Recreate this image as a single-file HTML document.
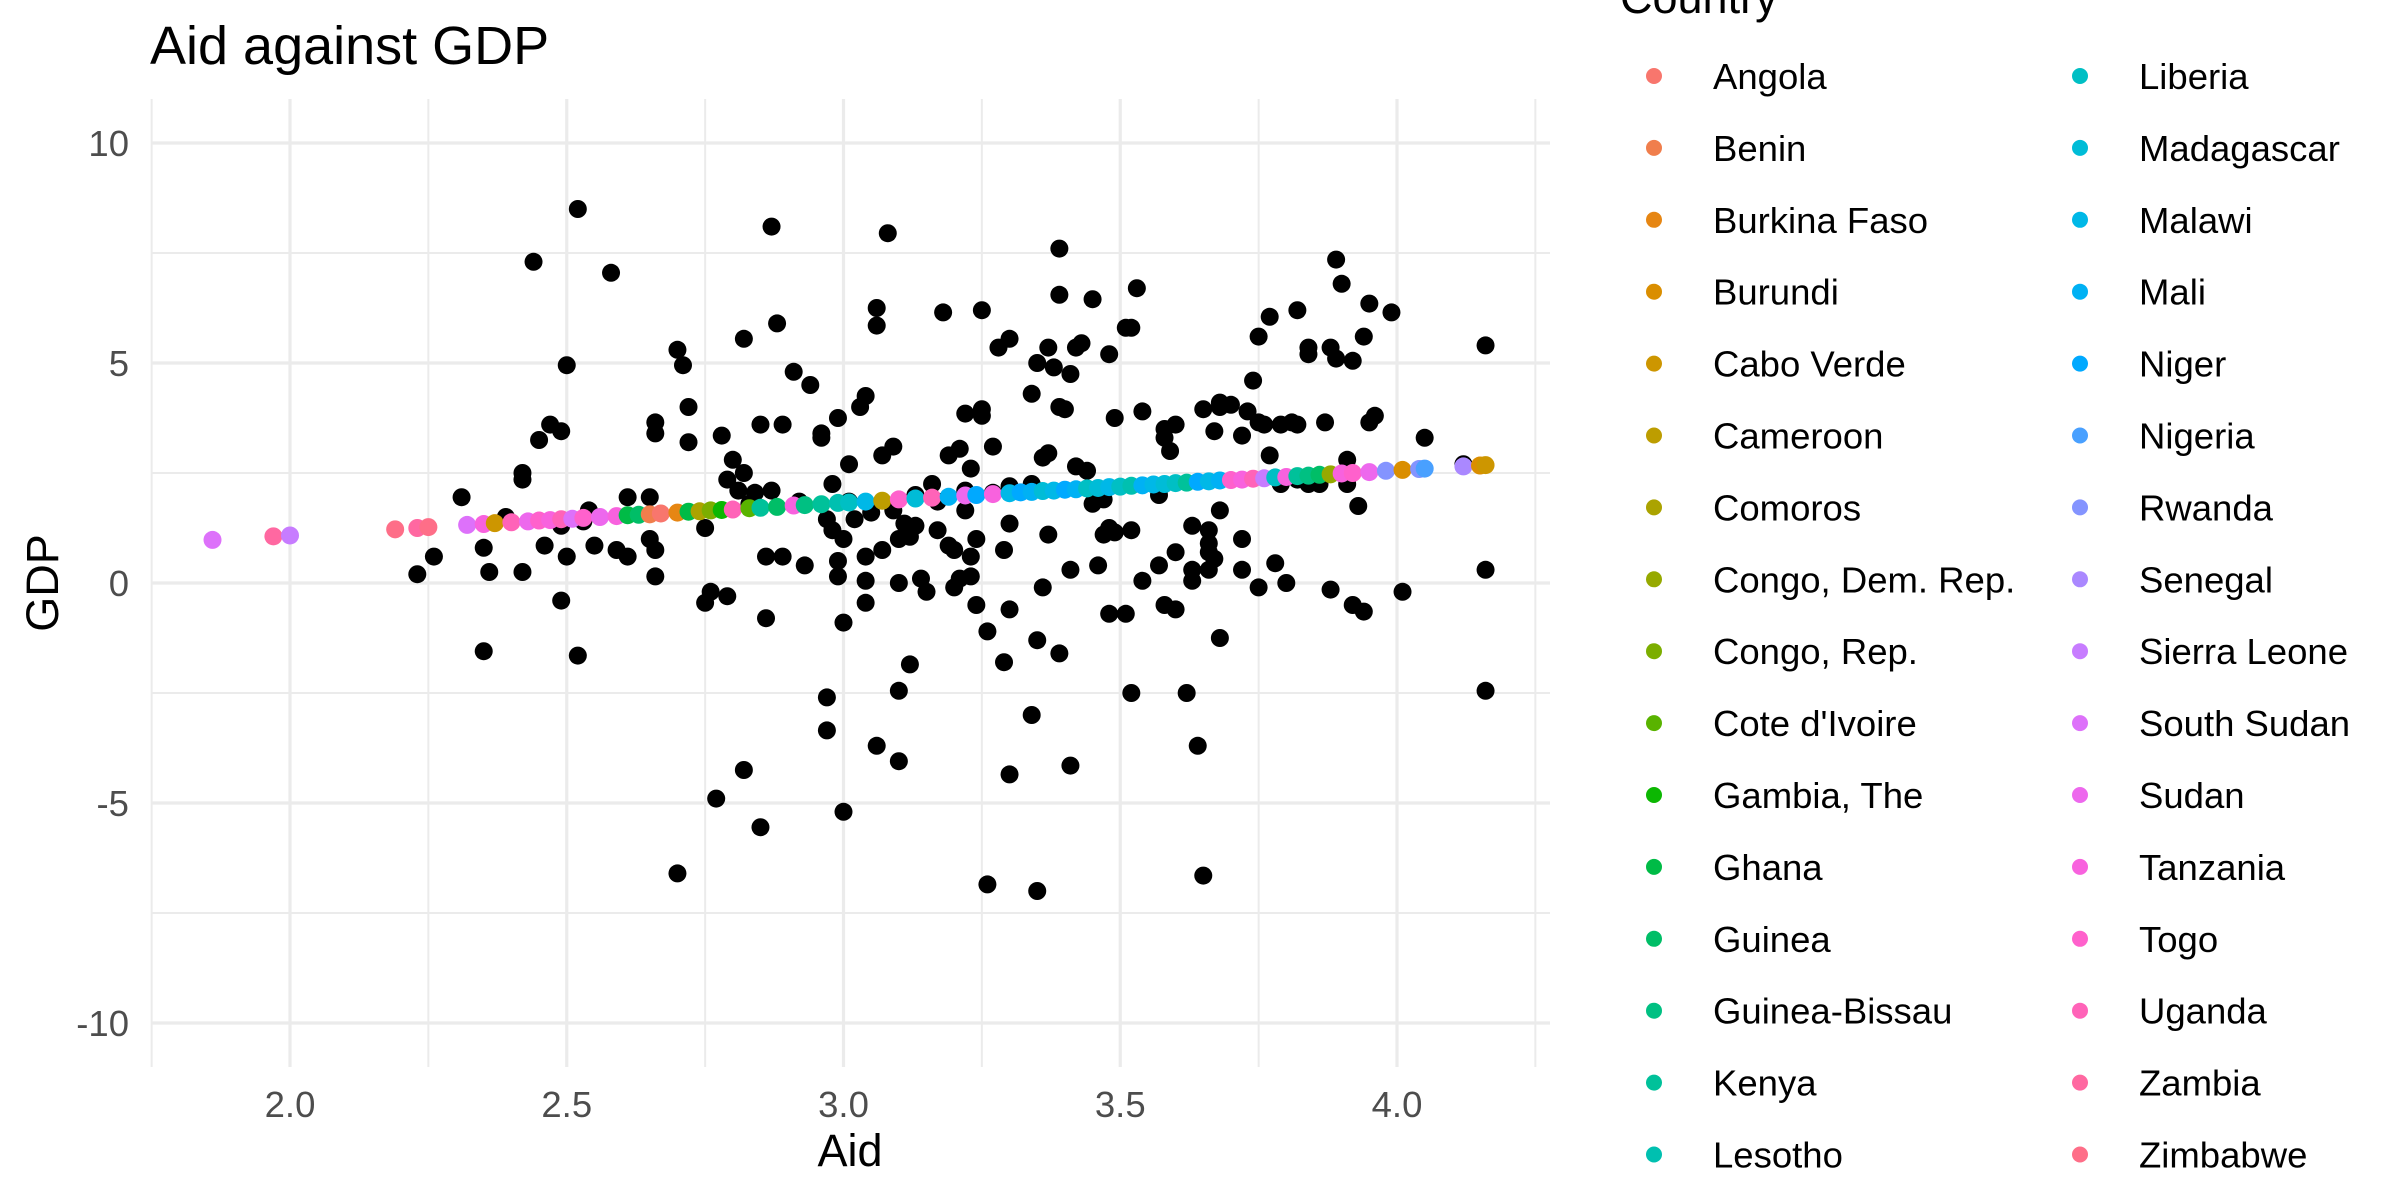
<!DOCTYPE html>
<html>
<head>
<meta charset="utf-8">
<style>
  html, body { margin:0; padding:0; background:#fff; }
  svg { display:block; font-family:"Liberation Sans", Arial, sans-serif; }
</style>
</head>
<body>
<svg id="chart" width="2400" height="1200" viewBox="0 0 2400 1200" xmlns="http://www.w3.org/2000/svg">
  <rect x="0" y="0" width="2400" height="1200" fill="#ffffff"/>
  <g id="grid"></g>
  <g id="yticks"></g>
  <g id="xticks"></g>
  <g id="blackpts"></g>
  <g id="colorpts"></g>
  <text x="150" y="64" font-size="54" fill="#000">Aid against GDP</text>
  <text x="850" y="1166" font-size="45" text-anchor="middle" fill="#000">Aid</text>
  <text x="0" y="0" font-size="45" text-anchor="middle" fill="#000" transform="translate(58,583) rotate(-90)">GDP</text>
  <text x="1620" y="13" font-size="45" fill="#000">Country</text>
  <g id="legend"></g>
</svg>
<script>
// ---- data ----
const countries = ["Angola","Benin","Burkina Faso","Burundi","Cabo Verde","Cameroon","Comoros","Congo, Dem. Rep.","Congo, Rep.","Cote d'Ivoire","Gambia, The","Ghana","Guinea","Guinea-Bissau","Kenya","Lesotho","Liberia","Madagascar","Malawi","Mali","Niger","Nigeria","Rwanda","Senegal","Sierra Leone","South Sudan","Sudan","Tanzania","Togo","Uganda","Zambia","Zimbabwe"];
const xTicks = [2.0, 2.5, 3.0, 3.5, 4.0];
const xTickLabels = ["2.0","2.5","3.0","3.5","4.0"];
const yTicks = [-10, -5, 0, 5, 10];
const yTickLabels = ["-10","-5","0","5","10"];
const xMinor = [1.75, 2.25, 2.75, 3.25, 3.75, 4.25];
const yMinor = [-7.5, -2.5, 2.5, 7.5];

const aidObs = [2.31,2.23,2.26,2.35,2.35,2.36,2.39,2.42,2.42,2.42,2.44,2.45,2.46,2.47,2.49,2.49,2.49,2.50,2.50,2.52,2.52,2.53,2.54,2.55,2.58,2.59,2.61,2.61,2.65,2.65,2.66,2.66,2.66,2.66,2.70,2.71,2.70,2.72,2.72,2.75,2.75,2.76,2.77,2.78,2.79,2.79,2.80,2.81,2.82,2.82,2.82,2.83,2.84,2.85,2.85,2.86,2.86,2.87,2.87,2.88,2.89,2.89,2.91,2.92,2.93,2.94,2.96,2.96,2.97,2.97,2.97,2.98,2.98,2.99,2.99,2.99,3.00,3.00,3.00,3.01,3.01,3.02,3.03,3.04,3.04,3.04,3.04,3.05,3.06,3.06,3.06,3.07,3.07,3.08,3.09,3.09,3.10,3.10,3.10,3.10,3.11,3.12,3.12,3.13,3.13,3.14,3.15,3.16,3.17,3.17,3.18,3.19,3.19,3.20,3.20,3.21,3.21,3.22,3.22,3.22,3.23,3.22,3.23,3.23,3.24,3.24,3.25,3.25,3.25,3.26,3.26,3.27,3.27,3.28,3.29,3.29,3.30,3.30,3.30,3.30,3.30,3.34,3.34,3.34,3.35,3.35,3.35,3.36,3.36,3.37,3.37,3.37,3.38,3.39,3.39,3.39,3.39,3.40,3.41,3.41,3.41,3.42,3.42,3.43,3.44,3.45,3.45,3.46,3.47,3.47,3.48,3.48,3.48,3.49,3.49,3.51,3.51,3.52,3.52,3.52,3.53,3.54,3.54,3.57,3.57,3.58,3.58,3.58,3.59,3.60,3.60,3.60,3.62,3.63,3.63,3.63,3.64,3.65,3.65,3.66,3.66,3.66,3.66,3.67,3.67,3.68,3.68,3.68,3.68,3.70,3.72,3.72,3.72,3.73,3.74,3.75,3.75,3.75,3.76,3.77,3.77,3.78,3.79,3.79,3.80,3.81,3.82,3.82,3.82,3.84,3.84,3.84,3.86,3.86,3.87,3.88,3.88,3.89,3.89,3.90,3.91,3.91,3.92,3.92,3.93,3.94,3.94,3.95,3.95,3.96,3.99,4.01,4.05,4.12,4.16,4.16,4.16];
const gdpObs = [1.95,0.2,0.6,-1.55,0.8,0.25,1.5,0.25,2.35,2.5,7.3,3.25,0.85,3.6,1.3,-0.4,3.45,4.95,0.6,8.5,-1.65,1.4,1.65,0.85,7.05,0.75,1.95,0.6,1.0,1.95,0.15,0.75,3.65,3.4,5.3,4.95,-6.6,3.2,4.0,1.25,-0.45,-0.2,-4.9,3.35,2.35,-0.3,2.8,2.1,2.5,5.55,-4.25,1.8,2.05,3.6,-5.55,-0.8,0.6,8.1,2.1,5.9,3.6,0.6,4.8,1.85,0.4,4.5,3.3,3.4,1.45,-2.6,-3.35,2.25,1.2,3.75,0.15,0.5,-0.9,-5.2,1.0,2.7,1.85,1.45,4.0,0.6,0.05,-0.45,4.25,1.6,5.85,-3.7,6.25,2.9,0.75,7.95,3.1,1.65,0.0,1.0,-2.45,-4.05,1.35,1.05,-1.85,2.0,1.3,0.1,-0.2,2.25,1.2,1.85,6.15,2.9,0.85,-0.1,0.75,0.1,3.05,2.0,2.1,1.65,2.6,3.85,0.15,0.6,-0.5,1.0,6.2,3.95,3.8,-1.1,-6.85,2.05,3.1,5.35,-1.8,0.75,5.55,-4.35,-0.6,2.2,1.35,2.25,-3.0,4.3,5.0,-7.0,-1.3,-0.1,2.85,1.1,2.95,5.35,4.9,6.55,-1.6,4.0,7.6,3.95,-4.15,0.3,4.75,2.65,5.35,5.45,2.55,6.45,1.8,0.4,1.9,1.1,1.25,5.2,-0.7,3.75,1.15,-0.7,5.8,-2.5,5.8,1.2,6.7,0.05,3.9,2.0,0.4,-0.5,3.3,3.5,3.0,3.6,-0.6,0.7,-2.5,0.05,0.3,1.3,-3.7,3.95,-6.65,0.3,1.2,0.7,0.9,3.45,0.55,4.0,4.1,1.65,-1.25,4.05,3.35,1.0,0.3,3.9,4.6,-0.1,5.6,3.65,3.6,6.05,2.9,0.45,2.25,3.6,0.0,3.65,6.2,2.35,3.6,2.25,5.2,5.35,2.25,2.4,3.65,-0.15,5.35,7.35,5.1,6.8,2.25,2.8,-0.5,5.05,1.75,5.6,-0.65,3.65,6.35,3.8,6.15,-0.2,3.3,2.7,-2.45,5.4,0.3];

const aidFit = [1.86,1.97,2.00,2.19,2.23,2.25,2.32,2.35,2.37,2.40,2.43,2.45,2.47,2.49,2.51,2.53,2.56,2.59,2.61,2.63,2.65,2.67,2.70,2.72,2.74,2.76,2.78,2.80,2.83,2.85,2.88,2.91,2.93,2.96,2.99,3.01,3.04,3.07,3.10,3.13,3.16,3.19,3.22,3.24,3.27,3.30,3.32,3.34,3.36,3.38,3.40,3.42,3.44,3.46,3.48,3.50,3.52,3.54,3.56,3.58,3.60,3.62,3.64,3.66,3.68,3.70,3.72,3.74,3.76,3.78,3.80,3.82,3.84,3.86,3.88,3.90,3.92,3.95,3.98,4.01,4.04,4.05,4.12,4.15,4.16];
const gdpFit = [0.98,1.06,1.08,1.22,1.25,1.27,1.32,1.34,1.36,1.38,1.40,1.42,1.43,1.45,1.46,1.48,1.50,1.52,1.54,1.55,1.56,1.58,1.60,1.62,1.63,1.65,1.66,1.67,1.70,1.71,1.73,1.76,1.77,1.79,1.82,1.83,1.85,1.87,1.90,1.92,1.94,1.96,1.99,2.00,2.02,2.04,2.06,2.07,2.09,2.10,2.12,2.13,2.15,2.16,2.18,2.19,2.21,2.22,2.24,2.25,2.27,2.28,2.30,2.31,2.33,2.34,2.35,2.37,2.38,2.40,2.41,2.43,2.44,2.46,2.47,2.49,2.50,2.52,2.55,2.57,2.59,2.60,2.65,2.67,2.68];
const countryFit = [25,30,24,31,30,31,25,27,4,29,26,28,27,29,25,28,26,27,11,12,1,0,2,11,6,8,10,29,9,14,12,27,13,14,15,16,18,5,28,17,29,19,26,20,27,18,20,19,17,18,20,19,16,17,18,16,15,19,18,17,16,14,20,18,19,28,27,29,24,16,27,14,13,12,7,27,28,26,22,3,22,21,23,3,4];

// ---- scales ----
const PX0 = 152, PX1 = 1550, PY0 = 99, PY1 = 1067;
function xs(v){ return 290 + (v - 2.0) * 553.5; }
function ys(v){ return 583 - v * 44; }

// ---- hcl colours (ggplot hue palette) ----
function hcl(h, c, l){
  const hr = h*Math.PI/180, u = c*Math.cos(hr), v = c*Math.sin(hr);
  const Xn=95.047, Yn=100, Zn=108.883;
  const d = Xn + 15*Yn + 3*Zn, un = 4*Xn/d, vn = 9*Yn/d;
  const Y = l > 8 ? Yn*Math.pow((l+16)/116,3) : Yn*l/903.3;
  const up = u/(13*l) + un, vp = v/(13*l) + vn;
  const X = Y*9*up/(4*vp), Z = Y*(12 - 3*up - 20*vp)/(4*vp);
  const x = X/100, y = Y/100, z = Z/100;
  let r = 3.2404542*x - 1.5371385*y - 0.4985314*z;
  let g = -0.9692660*x + 1.8760108*y + 0.0415560*z;
  let b = 0.0556434*x - 0.2040259*y + 1.0572252*z;
  const gam = t => { t = t <= 0.0031308 ? 12.92*t : 1.055*Math.pow(t,1/2.4)-0.055; return Math.round(Math.max(0,Math.min(1,t))*255); };
  return `rgb(${gam(r)},${gam(g)},${gam(b)})`;
}
const palette = countries.map((_, i) => hcl(15 + i*360/countries.length, 100, 65));

const NS = "http://www.w3.org/2000/svg";
function mk(tag, attrs, parent){
  const e = document.createElementNS(NS, tag);
  for (const k in attrs) e.setAttribute(k, attrs[k]);
  parent.appendChild(e);
  return e;
}

// grid
const grid = document.getElementById('grid');
yMinor.forEach(v => {
  const l = mk('line', {x1:PX0, x2:PX1, y1:ys(v), y2:ys(v), stroke:'#ebebeb', 'stroke-width':2}, grid);
  
  
});
xMinor.forEach(v => {
  const l = mk('line', {x1:xs(v), x2:xs(v), y1:PY0, y2:PY1, stroke:'#ebebeb', 'stroke-width':2}, grid);
  
  
});
yTicks.forEach(v => {
  const l = mk('line', {x1:PX0, x2:PX1, y1:ys(v), y2:ys(v), stroke:'#ebebeb', 'stroke-width':3.2}, grid);
  
  
});
xTicks.forEach(v => {
  const l = mk('line', {x1:xs(v), x2:xs(v), y1:PY0, y2:PY1, stroke:'#ebebeb', 'stroke-width':3.2}, grid);
  
  
});

// tick labels
const yt = document.getElementById('yticks');
yTicks.forEach((v, i) => {
  const t = mk('text', {x:129, y:ys(v)+13, 'font-size':36.5, 'text-anchor':'end', fill:'#4d4d4d'}, yt);
  t.textContent = yTickLabels[i];
  
  
});
const xt = document.getElementById('xticks');
xTicks.forEach((v, i) => {
  const t = mk('text', {x:xs(v), y:1117, 'font-size':36.5, 'text-anchor':'middle', fill:'#4d4d4d'}, xt);
  t.textContent = xTickLabels[i];
  
  
});

// black points
const bp = document.getElementById('blackpts');
aidObs.forEach((a, i) => {
  const c = mk('circle', {cx:xs(a), cy:ys(gdpObs[i]), r:9, fill:'#000'}, bp);
  
  
});

// coloured fitted points
const cp = document.getElementById('colorpts');
aidFit.forEach((a, i) => {
  const c = mk('circle', {cx:xs(a), cy:ys(gdpFit[i]), r:9, fill:palette[countryFit[i]]}, cp);
  
  
});

// legend
const lg = document.getElementById('legend');
countries.forEach((name, i) => {
  const col = Math.floor(i/16), row = i % 16;
  const cy = 76 + row*71.9;
  const dx = col === 0 ? 1654 : 2080;
  const tx = col === 0 ? 1713 : 2139;
  const g = mk('g', {}, lg);
  
  
  mk('circle', {cx:dx, cy:cy, r:8, fill:palette[i]}, g);
  const t = mk('text', {x:tx, y:cy+13, 'font-size':36.5, fill:'#000'}, g);
  t.textContent = name;
});
</script>
</body>
</html>
